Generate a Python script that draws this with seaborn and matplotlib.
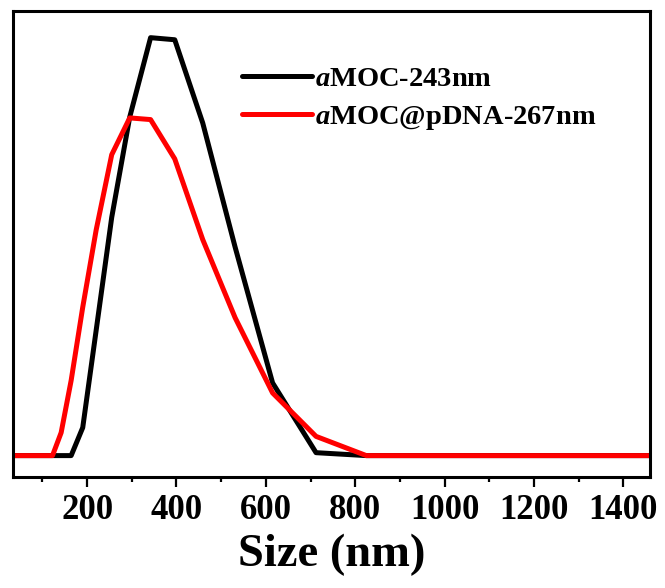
import matplotlib
matplotlib.use("Agg")
import matplotlib.pyplot as plt
import numpy as np
import pandas as pd
import seaborn as sns
from matplotlib.ticker import MultipleLocator

# datos (bins de tamaño y curvas de intensidad)
tamanos = [32.67, 37.84, 43.82, 50.75, 58.77, 68.06, 78.82, 91.28, 105.7, 122.4,
           141.8, 164.2, 190.1, 220.2, 255.0, 295.3, 342.0, 396.1, 458.7, 531.2,
           615.1, 712.4, 825.0, 955.4, 1106.0, 1281.0, 1484.0]
amoc = [0, 0, 0, 0, 0, 0, 0, 0, 0, 0,
        0, 0, 6.7, 30, 57, 81, 100, 99.5, 79.6, 49.9,
        17.4, 0.7, 0, 0, 0, 0, 0]
amoc_pdna = [0, 0, 0, 0, 0, 0, 0, 0, 0, 0,
             5.5, 18, 35.5, 54, 72, 80.8, 80.4, 71, 51.7, 33,
             15, 4.6, 0, 0, 0, 0, 0]
etiquetas = [r"$a$MOC-243nm", r"$a$MOC@pDNA-267nm"]
colores = ["black", "#ff0000"]

df = pd.DataFrame({
    "Size": tamanos * 2,
    "Intensidad": amoc + amoc_pdna,
    "Muestra": [etiquetas[0]] * len(tamanos) + [etiquetas[1]] * len(tamanos),
})

sns.set_style("ticks")
plt.rcParams["font.family"] = ["Liberation Serif", "DejaVu Serif"]
plt.rcParams["font.weight"] = "bold"
plt.rcParams["mathtext.fontset"] = "custom"
plt.rcParams["mathtext.it"] = "Liberation Serif:italic:bold"
plt.rcParams["mathtext.rm"] = "Liberation Serif:bold"
plt.rcParams["text.color"] = "black"
plt.rcParams["axes.labelcolor"] = "black"
plt.rcParams["xtick.color"] = "black"
plt.rcParams["axes.edgecolor"] = "black"

fig = plt.figure(figsize=(6.65, 5.88), dpi=100)
ax = fig.add_axes([13 / 665, 1 - 476.5 / 588, 637 / 665, 466 / 588])

sns.lineplot(data=df, x="Size", y="Intensidad", hue="Muestra",
             palette=colores, linewidth=3.6, ax=ax, sort=False)

ax.set_xlim(34, 1460)
ax.set_ylim(-5, 106.5)
ax.set_yticks([])
ax.set_ylabel("")
ax.xaxis.set_major_locator(MultipleLocator(200))
ax.xaxis.set_minor_locator(MultipleLocator(100))
ax.tick_params(axis="x", which="major", direction="out", length=7.5, width=1.6,
               labelsize=25, pad=5)
ax.tick_params(axis="x", which="minor", direction="out", length=3.5, width=1.6)
for lab in ax.get_xticklabels():
    lab.set_fontweight("bold")
ax.set_xlabel("Size (nm)", fontsize=33.5, fontweight="bold", labelpad=5)

for s in ax.spines.values():
    s.set_linewidth(2.2)
    s.set_visible(True)

leg = ax.legend(loc="upper left", bbox_to_anchor=(0.36, 0.88), frameon=False,
                fontsize=20.5, handlelength=2.45, handletextpad=0.12,
                labelspacing=0.42, borderpad=0, borderaxespad=0)
for linea in leg.get_lines():
    linea.set_linewidth(3.6)

fig.savefig("out.png", dpi=100)
